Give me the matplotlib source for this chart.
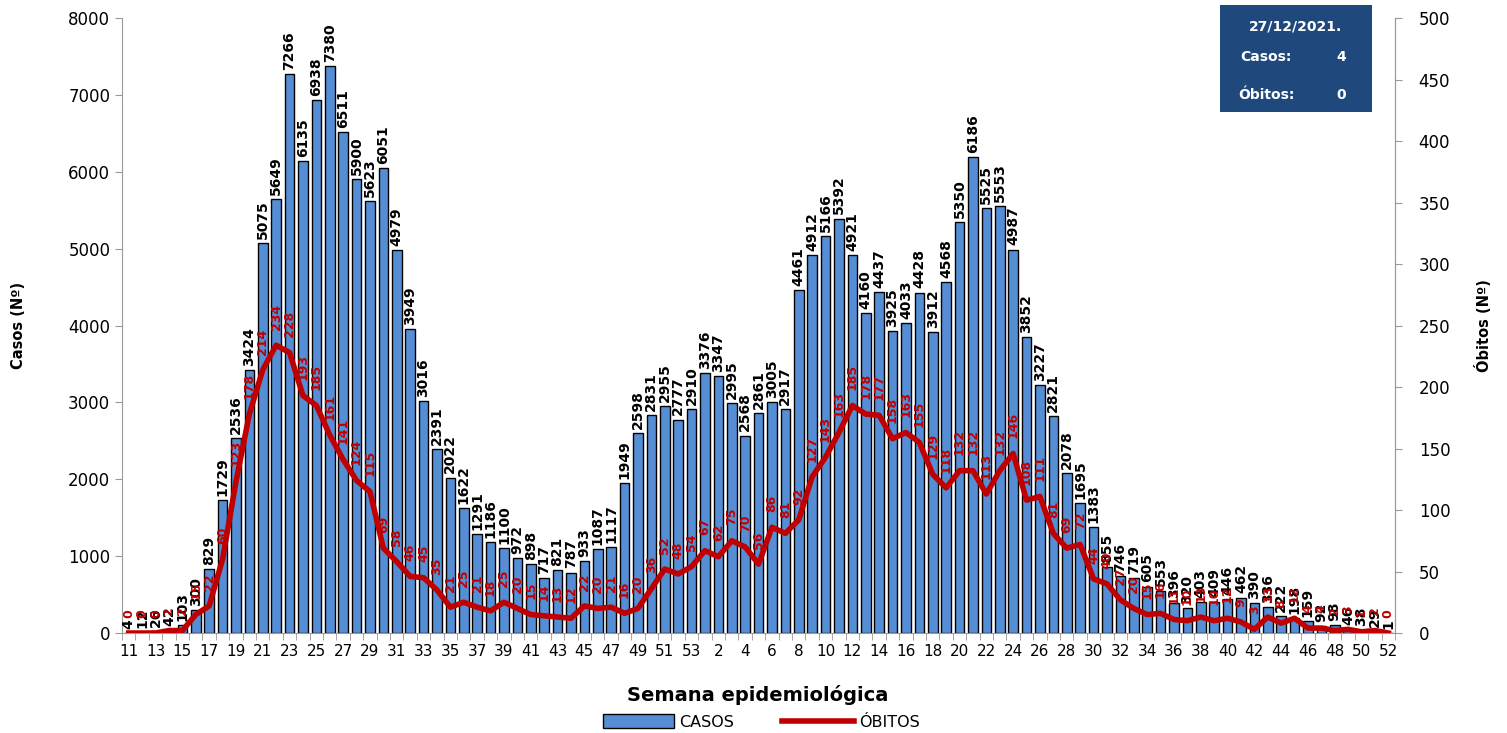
import matplotlib.pyplot as plt
import numpy as np
from matplotlib.patches import Rectangle, Patch
from matplotlib.lines import Line2D

# semanas epidemiologicas: 11..53 (2020) e 1..52 (2021)
semanas = [str(s) for s in range(11, 54)] + [str(s) for s in range(1, 53)]

casos = [4, 12, 26, 42, 103, 300, 829, 1729, 2536, 3424,
         5075, 5649, 7266, 6135, 6938, 7380, 6511, 5900, 5623, 6051,
         4979, 3949, 3016, 2391, 2022, 1622, 1291, 1186, 1100, 972,
         898, 717, 821, 787, 933, 1087, 1117, 1949, 2598, 2831,
         2955, 2777, 2910,
         3376, 3347, 2995, 2568, 2861, 3005, 2917, 4461, 4912, 5166,
         5392, 4921, 4160, 4437, 3925, 4033, 4428, 3912, 4568, 5350,
         6186, 5525, 5553, 4987, 3852, 3227, 2821, 2078, 1695, 1383,
         855, 746, 719, 605, 553, 396, 320, 403, 409, 446,
         462, 390, 336, 222, 198, 159, 92, 98, 46, 38,
         29, 1]

obitos = [0, 0, 0, 2, 2, 15, 22, 60, 123, 178,
          214, 234, 228, 193, 185, 161, 141, 124, 115, 69,
          58, 46, 45, 35, 21, 25, 21, 18, 25, 20,
          15, 14, 13, 12, 22, 20, 21, 16, 20, 36,
          52, 48, 54,
          67, 62, 75, 70, 56, 86, 81, 92, 127, 143,
          163, 185, 178, 177, 158, 163, 155, 129, 118, 132,
          132, 113, 132, 146, 108, 111, 81, 69, 72, 44,
          40, 27, 20, 15, 16, 11, 10, 13, 10, 12,
          9, 3, 13, 8, 12, 4, 4, 2, 3, 1,
          2, 0]

data_info = "27/12/2021."
casos_dia = 4
obitos_dia = 0

azul = '#558ED5'
vermelho = '#C00000'

fig = plt.figure(figsize=(15.07, 7.33), dpi=100)
ax = fig.add_axes([0.081, 0.1364, 0.8447, 0.839])
x = np.arange(len(semanas))

ax.bar(x, casos, width=0.72, color=azul, edgecolor='black', linewidth=1.0, zorder=2)
for i, v in enumerate(casos):
    ax.annotate(str(v), (i, v), xytext=(0, 3), textcoords='offset points',
                rotation=90, ha='center', va='bottom', fontsize=10,
                fontweight='bold', color='black')

ax.set_xlim(-0.5, len(semanas) - 0.5)
ax.set_ylim(0, 8000)
ax.set_yticks(np.arange(0, 8001, 1000))
ax.set_xticks(x[::2])
ax.set_xticklabels(semanas[::2])
ax.set_xticks(np.arange(-0.5, len(semanas), 1), minor=True)
ax.tick_params(axis='x', which='major', length=0, labelsize=11, pad=8)
ax.tick_params(axis='x', which='minor', length=5, color='#999999')
ax.tick_params(axis='y', labelsize=12, length=5, color='#999999')
ax.spines['top'].set_visible(False)
for s in ['left', 'bottom', 'right']:
    ax.spines[s].set_color('#999999')
ax.set_ylabel('Casos (Nº)', fontsize=10.5, fontweight='bold', labelpad=30)

ax2 = ax.twinx()
ax2.plot(x, obitos, color=vermelho, linewidth=4, solid_joinstyle='round', zorder=3)
for i, v in enumerate(obitos):
    ax2.annotate(str(v), (i, v), xytext=(0, 11), textcoords='offset points',
                 rotation=90, ha='center', va='bottom', fontsize=9,
                 fontweight='bold', color=vermelho)
ax2.set_ylim(0, 500)
ax2.set_yticks(np.arange(0, 501, 50))
ax2.tick_params(axis='y', labelsize=12, length=5, color='#999999', pad=12)
ax2.spines['top'].set_visible(False)
ax2.spines['right'].set_color('#999999')
ax2.spines['left'].set_visible(False)
ax2.spines['bottom'].set_visible(False)
ax2.set_ylabel('Óbitos (Nº)', fontsize=10.5, fontweight='bold', labelpad=18)

fig.text(0.5025, 0.052, 'Semana epidemiológica', ha='center', va='center',
         fontsize=14, fontweight='bold')

handles = [Patch(facecolor=azul, edgecolor='black', label='CASOS'),
           Line2D([0], [0], color=vermelho, lw=4, label='ÓBITOS')]
fig.legend(handles=handles, loc='center', bbox_to_anchor=(0.505, 0.015), ncol=2,
           frameon=False, fontsize=11.5, handlelength=4.5, handleheight=0.9,
           columnspacing=3, handletextpad=0.3)

# caixa de informacao
fig.patches.append(Rectangle((1220 / 1507, 1 - 112 / 733), 152 / 1507, 107 / 733,
                             transform=fig.transFigure, facecolor='#1F497D',
                             edgecolor='none', zorder=5))
fig.text(1296 / 1507, 1 - 27 / 733, data_info, color='white', fontsize=10,
         fontweight='bold', ha='center', va='center', zorder=6)
fig.text(1266 / 1507, 1 - 57 / 733, 'Casos:', color='white', fontsize=10,
         fontweight='bold', ha='center', va='center', zorder=6)
fig.text(1341 / 1507, 1 - 57 / 733, str(casos_dia), color='white', fontsize=10,
         fontweight='bold', ha='center', va='center', zorder=6)
fig.text(1266 / 1507, 1 - 95 / 733, 'Óbitos:', color='white', fontsize=10,
         fontweight='bold', ha='center', va='center', zorder=6)
fig.text(1341 / 1507, 1 - 95 / 733, str(obitos_dia), color='white', fontsize=10,
         fontweight='bold', ha='center', va='center', zorder=6)

fig.savefig('out.png', dpi=100)
